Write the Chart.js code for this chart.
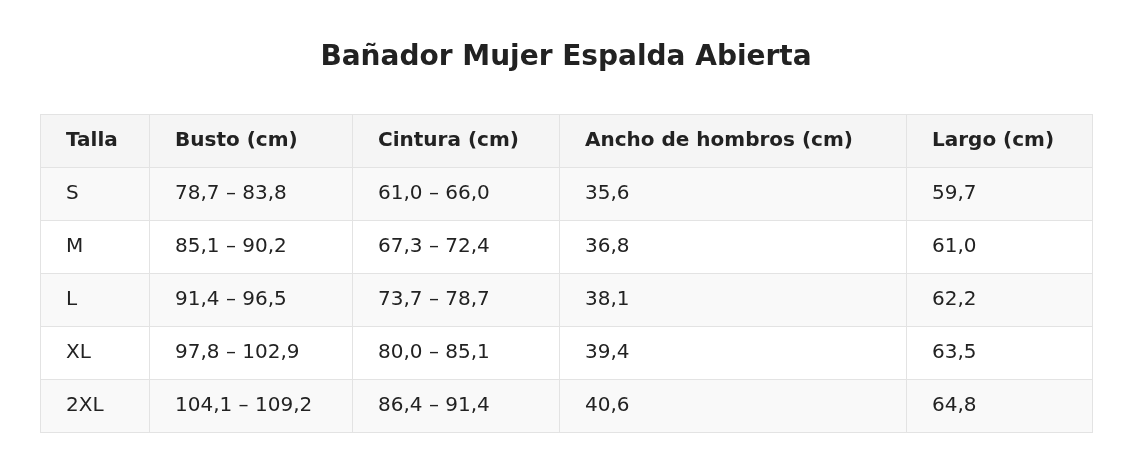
<!DOCTYPE html>
<html>
<head>
<meta charset="utf-8">
<script src="https://cdn.jsdelivr.net/npm/chart.js@4/dist/chart.umd.min.js"></script>
<style>
  body { margin: 0; background: #fff; }
</style>
</head>
<body>
<canvas id="sizeChart" width="1132" height="472"></canvas>
<script>
// table data
const headers = ['Talla', 'Busto (cm)', 'Cintura (cm)', 'Ancho de hombros (cm)', 'Largo (cm)'];
const sizes = ['S', 'M', 'L', 'XL', '2XL'];
const busto = ['78,7 – 83,8', '85,1 – 90,2', '91,4 – 96,5', '97,8 – 102,9', '104,1 – 109,2'];
const cintura = ['61,0 – 66,0', '67,3 – 72,4', '73,7 – 78,7', '80,0 – 85,1', '86,4 – 91,4'];
const hombros = ['35,6', '36,8', '38,1', '39,4', '40,6'];
const largo = ['59,7', '61,0', '62,2', '63,5', '64,8'];

// column edges in x-scale units (table is 0..1052 wide)
const colEdges = [0, 109, 312, 519, 866, 1052];

const rows = [headers].concat(sizes.map((s, i) => [s, busto[i], cintura[i], hombros[i], largo[i]]));
const font = '"DejaVu Sans", sans-serif';

const tablePlugin = {
    id: 'tablePlugin',
    afterDraw(chart) {
        const ctx = chart.ctx;
        const xs = chart.scales.x, ys = chart.scales.y;
        const half = (ys.getPixelForValue(1) - ys.getPixelForValue(0)) / 2;
        ctx.save();
        rows.forEach((row, r) => {
            const cy = ys.getPixelForValue(r);
            const top = cy - half, h = half * 2;
            const left = xs.getPixelForValue(colEdges[0]);
            const right = xs.getPixelForValue(colEdges[colEdges.length - 1]);
            ctx.fillStyle = r === 0 ? '#f5f5f5' : (r % 2 === 1 ? '#f9f9f9' : '#ffffff');
            ctx.fillRect(left, top, right - left, h);
            row.forEach((txt, c) => {
                const x0 = xs.getPixelForValue(colEdges[c]);
                const x1 = xs.getPixelForValue(colEdges[c + 1]);
                ctx.strokeStyle = '#e3e3e3';
                ctx.lineWidth = 1;
                ctx.strokeRect(Math.round(x0) + 0.5, Math.round(top) + 0.5, x1 - x0, h);
                ctx.fillStyle = '#222222';
                ctx.font = (r === 0 ? 'bold ' : '') + '20px ' + font;
                ctx.textBaseline = 'middle';
                ctx.textAlign = 'left';
                ctx.fillText(txt, x0 + 26, cy);
            });
        });
        ctx.restore();
    }
};

new Chart(document.getElementById('sizeChart'), {
    type: 'scatter',
    data: { datasets: [] },
    options: {
        responsive: false,
        animation: false,
        layout: { padding: { left: 40, right: 40, top: 0, bottom: 40 } },
        scales: {
            x: { type: 'linear', min: colEdges[0], max: colEdges[colEdges.length - 1], display: false },
            y: { type: 'category', labels: rows.map((r, i) => i), offset: true, display: false }
        },
        plugins: {
            legend: { display: false },
            tooltip: { enabled: false },
            title: {
                display: true,
                text: 'Bañador Mujer Espalda Abierta',
                color: '#222222',
                font: { family: font, size: 28, weight: 'bold' },
                padding: { top: 41, bottom: 39.4 }
            }
        }
    },
    plugins: [tablePlugin]
});
</script>
</body>
</html>
